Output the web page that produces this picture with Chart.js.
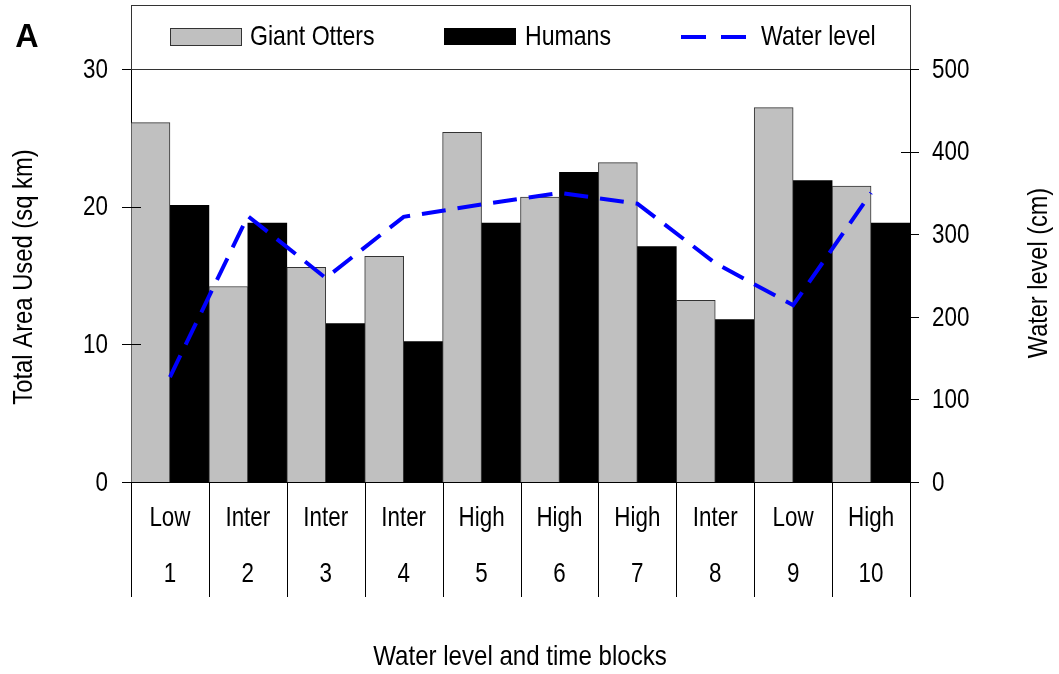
<!DOCTYPE html>
<html>
<head>
<meta charset="utf-8">
<script src="https://cdn.jsdelivr.net/npm/chart.js@4/dist/chart.umd.min.js"></script>
<style>
  html, body { margin: 0; padding: 0; background: #fff; }
  #wrap { width: 1059px; height: 674px; }
</style>
</head>
<body>
<div id="wrap"><canvas id="chart" width="1059" height="674"></canvas></div>
<script>
const categories = ["Low", "Inter", "Inter", "Inter", "High", "High", "High", "Inter", "Low", "High"];
const blocks = ["1", "2", "3", "4", "5", "6", "7", "8", "9", "10"];
const otters = [26.1, 14.2, 15.6, 16.4, 25.4, 20.7, 23.2, 13.2, 27.2, 21.5];
const humans = [20.1, 18.8, 11.5, 10.2, 18.8, 22.5, 17.1, 11.8, 21.9, 18.8];
const waterLevel = [127, 322, 247, 321, 336, 350, 337, 265, 214, 350];
const leftTicks = [0, 10, 20, 30];
const rightTicks = [0, 100, 200, 300, 400, 500];

const FONT = "'Liberation Sans', Arial, sans-serif";
Chart.defaults.font.family = FONT;
Chart.defaults.color = "#000";

// the original uses a narrow face, so squeeze the text along its run
function narrowText(ctx, text, x, y, align, sx, rot) {
  ctx.save();
  ctx.translate(x, y);
  if (rot) ctx.rotate(rot);
  ctx.scale(sx, 1);
  ctx.textAlign = align;
  ctx.fillText(text, 0, 0);
  ctx.restore();
}

// box round the legend, crossing ticks, category dividers, labels and titles
const decor = {
  id: "decor",
  afterDraw(chart) {
    const { ctx, chartArea: a } = chart;
    const y = chart.scales.y, y1 = chart.scales.y1, x = chart.scales.x;
    ctx.save();
    ctx.lineWidth = 1;

    // legend box
    ctx.strokeStyle = "#333";
    ctx.strokeRect(a.left + 0.5, 5.5, a.right - a.left, a.top - 5);
    ctx.strokeStyle = "#000";

    ctx.beginPath();
    leftTicks.forEach((v) => {
      const py = Math.round(y.getPixelForValue(v)) + 0.5;
      const inner = v === 0 || v === 30 ? 0 : 10;
      ctx.moveTo(a.left - 9, py);
      ctx.lineTo(a.left + inner, py);
    });
    rightTicks.forEach((v) => {
      const py = Math.round(y1.getPixelForValue(v)) + 0.5;
      const inner = v === 0 || v === 500 ? 0 : 9;
      ctx.moveTo(a.right - inner, py);
      ctx.lineTo(a.right + 9, py);
    });
    const cw = (x.right - x.left) / categories.length;
    for (let i = 0; i <= categories.length; i++) {
      const px = Math.round(x.left + i * cw) + 0.5;
      ctx.moveTo(px, a.bottom);
      ctx.lineTo(px, a.bottom + 115);
    }
    ctx.stroke();

    ctx.fillStyle = "#000";
    ctx.font = "28px " + FONT;
    ctx.textBaseline = "middle";

    // tick labels
    leftTicks.forEach((v) => {
      narrowText(ctx, String(v), a.left - 23, y.getPixelForValue(v) + 1, "right", 0.8);
    });
    rightTicks.forEach((v) => {
      narrowText(ctx, String(v), a.right + 22, y1.getPixelForValue(v) + 1, "left", 0.8);
    });
    categories.forEach((c, i) => {
      const px = x.getPixelForValue(i);
      narrowText(ctx, c, px, a.bottom + 36, "center", 0.8);
      narrowText(ctx, blocks[i], px, a.bottom + 92, "center", 0.8);
    });

    // legend
    ctx.fillStyle = "#c0c0c0";
    ctx.fillRect(170, 28, 71, 17);
    ctx.strokeStyle = "#333";
    ctx.strokeRect(170.5, 28.5, 71, 17);
    ctx.fillStyle = "#000";
    narrowText(ctx, "Giant Otters", 250, 37, "left", 0.825);
    ctx.fillRect(444, 28, 72, 17);
    narrowText(ctx, "Humans", 525, 37, "left", 0.825);
    ctx.strokeStyle = "#0000ff";
    ctx.lineWidth = 4;
    ctx.setLineDash([25, 15]);
    ctx.beginPath();
    ctx.moveTo(681, 37);
    ctx.lineTo(747, 37);
    ctx.stroke();
    ctx.setLineDash([]);
    narrowText(ctx, "Water level", 761, 37, "left", 0.825);

    // axis titles
    narrowText(ctx, "Water level and time blocks", 520, 657, "center", 0.86);
    narrowText(ctx, "Total Area Used (sq km)", 24, 277, "center", 0.85, -Math.PI / 2);
    narrowText(ctx, "Water level (cm)", 1039, 273, "center", 0.84, -Math.PI / 2);

    // panel letter
    ctx.font = "bold 34px " + FONT;
    narrowText(ctx, "A", 27, 38, "center", 0.95);
    ctx.restore();
  },
};

new Chart(document.getElementById("chart"), {
  type: "bar",
  data: {
    labels: categories.map((c, i) => c + " " + blocks[i]),
    datasets: [
      {
        type: "line",
        label: "Water level",
        data: waterLevel,
        yAxisID: "y1",
        borderColor: "#0000ff",
        borderWidth: 4,
        borderDash: [24, 12],
        pointRadius: 0,
        tension: 0,
        fill: false,
        order: 0,
      },
      {
        label: "Giant Otters",
        data: otters,
        yAxisID: "y",
        backgroundColor: "#c0c0c0",
        borderColor: "#333",
        borderWidth: 1,
        barPercentage: 1,
        categoryPercentage: 1,
        order: 1,
      },
      {
        label: "Humans",
        data: humans,
        yAxisID: "y",
        backgroundColor: "#000",
        borderColor: "#000",
        borderWidth: 0,
        barPercentage: 1,
        categoryPercentage: 1,
        order: 1,
      },
    ],
  },
  options: {
    responsive: false,
    animation: false,
    layout: { padding: { top: 69, left: 0, right: 0, bottom: 0 } },
    plugins: {
      legend: { display: false },
      tooltip: { enabled: false },
    },
    scales: {
      x: {
        grid: { display: false, drawTicks: false },
        border: { display: true, color: "#000", width: 1 },
        ticks: { display: false },
        afterFit: (s) => { s.height = 192; },
      },
      y: {
        position: "left",
        min: 0,
        max: 30,
        afterBuildTicks: (s) => { s.ticks = leftTicks.map((v) => ({ value: v })); },
        grid: { display: false, drawTicks: false },
        border: { display: true, color: "#000", width: 1 },
        ticks: { display: false },
        afterFit: (s) => { s.width = 131; },
      },
      y1: {
        position: "right",
        min: 0,
        max: 500,
        afterBuildTicks: (s) => { s.ticks = rightTicks.map((v) => ({ value: v })); },
        grid: { display: false, drawTicks: false },
        border: { display: true, color: "#000", width: 1 },
        ticks: { display: false },
        afterFit: (s) => { s.width = 149; },
      },
    },
  },
  plugins: [decor],
});
</script>
</body>
</html>
